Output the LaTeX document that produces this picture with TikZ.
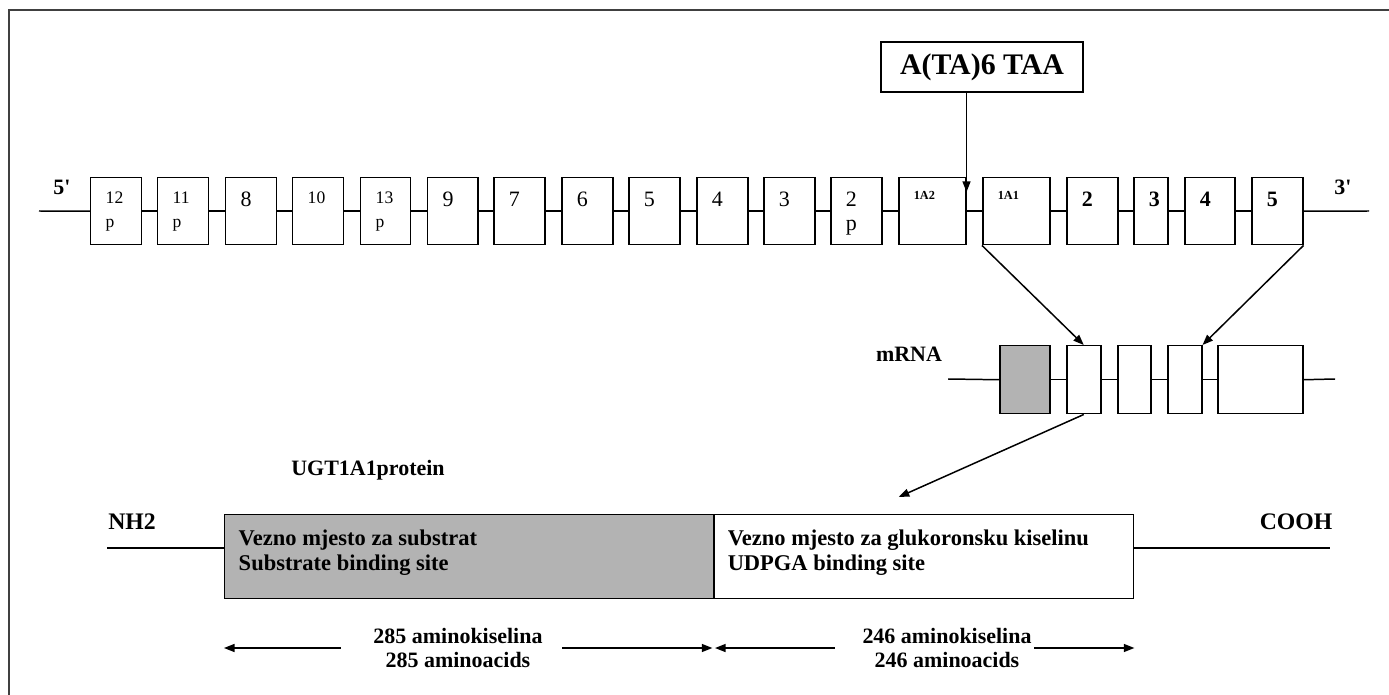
\documentclass[tikz,border=0pt]{standalone}
\usepackage{fontspec}
\setmainfont{Liberation Serif}
\usepackage{xcolor}
\usepackage{tikz}
\usetikzlibrary{arrows.meta,calc}
\definecolor{domgrey}{RGB}{179,179,179}
\newcommand{\fsmall}{\fontsize{10}{13.6}\selectfont}
\newcommand{\flarge}{\fontsize{12.5}{13.6}\selectfont}
\newcommand{\fbold}{\fontsize{12.5}{13.6}\selectfont\bfseries}
\newcommand{\ftiny}{\fontsize{7}{9}\selectfont\bfseries}
\tikzset{
  exon/.style={rectangle, draw, fill=white, anchor=north west, inner sep=0pt,
               minimum width={(#1)*0.02cm}, minimum height=1.34cm},
  mexon/.style={rectangle, draw, fill=#1, anchor=north west, inner sep=0pt,
                minimum height=1.36cm},
  lab/.style={anchor=north west, inner sep=0pt, xshift=0.3cm, yshift=-0.28cm, align=left},
  dom/.style={rectangle, draw, fill=#1, anchor=north west, inner sep=0pt,
              minimum height=1.68cm},
  domtxt/.style={anchor=north west, inner sep=0pt, xshift=0.28cm, yshift=-0.3cm, align=left,
                 font=\fontsize{12.8}{14.2}\selectfont\bfseries},
  tag/.style={inner sep=0pt, font=\fontsize{12.5}{15}\selectfont\bfseries},
  aatxt/.style={inner sep=0pt, align=center, font=\fontsize{12.5}{14.2}\selectfont\bfseries},
  arr/.style={-{Triangle[length=6pt,width=4.5pt]}},
}
\begin{document}
\begin{tikzpicture}[x=0.02cm, y=-0.02cm, line width=0.85pt]
  \useasboundingbox (0,0) rectangle (1389,695);
  \draw[line width=0.8pt, black!75] (1389,10) -- (9,10) -- (9,695);

  % gene
  \foreach \i/\l/\r/\txt/\fnt in {
      1/90/141/{12\\p}/\fsmall, 2/157/208/{11\\p}/\fsmall, 3/225/276/8/\flarge,
      4/292/343/10/\fsmall, 5/360/410/{13\\p}/\fsmall, 6/427/477/9/\flarge,
      7/493/544/7/\flarge, 8/561/612/6/\flarge, 9/628/679/5/\flarge,
      10/696/747/4/\flarge, 11/763/814/3/\flarge, 12/830/881/{2\\p}/\flarge,
      13/898/965/1A2/\ftiny, 14/982/1049/1A1/\ftiny, 15/1066/1117/2/\fbold,
      16/1133/1167/3/\fbold, 17/1184/1234/4/\fbold, 18/1251/1302/5/\fbold}
    \node[exon={\r-\l}, label={[lab, font=\fnt]north west:\txt}] (e\i) at (\l,177) {};
  \foreach \i [evaluate=\i as \j using int(\i+1)] in {1,...,17}
    \draw (e\i.east) -- (e\j.west);
  \coordinate (g5) at (39,211);
  \coordinate (g3) at (1369,211);
  \draw (g5) -- (e1.west);
  \draw (e18.east) -- (g3);
  \node[tag] (p5) at (62,187) {5\textquotesingle};
  \node[tag] (p3) at (1343,187) {3\textquotesingle};

  \node[draw, inner sep=0pt, minimum width=4.04cm, minimum height=1cm,
        font=\fontsize{17}{20}\selectfont\bfseries] (ta) at (982,67) {A(TA)6 TAA};
  \draw[arr] (ta.south -| e13.east) -- ($(e13.north east)+(0,15)$);

  % mRNA
  \foreach \i/\l/\r/\c in {1/999/1049/domgrey, 2/1066/1100/white, 3/1117/1150/white,
                           4/1167/1201/white, 5/1217/1302/white}
    \node[mexon=\c, minimum width={(\r-\l)*0.02cm}] (m\i) at (\l,345) {};
  \coordinate (r5) at (948,379);
  \coordinate (r3) at (1335,379);
  \draw (r5) -- (m1.west);
  \foreach \i [evaluate=\i as \j using int(\i+1)] in {1,...,4}
    \draw (m\i.east) -- (m\j.west);
  \draw (m5.east) -- (r3);
  \node[tag] (mrna) at (909,354) {mRNA};
  \draw[arr] (e14.south west) -- (m2.north);
  \draw[arr] (e18.south east) -- (m4.north east);

  % protein
  \node[dom=domgrey, minimum width=9.78cm,
        label={[domtxt]north west:{Vezno mjesto za substrat\\Substrate binding site}}]
        (sub) at (224,514) {};
  \node[dom=white, minimum width=8.4cm,
        label={[domtxt]north west:{Vezno mjesto za glukoronsku kiselinu\\UDPGA binding site}}]
        (udpga) at (713,514) {};
  \node[tag] (ugt) at (368,470) {UGT1A1protein};
  \node[tag, font=\fontsize{13.5}{15}\selectfont\bfseries] (nh2) at (132,522) {NH2};
  \node[tag, font=\fontsize{13.5}{15}\selectfont\bfseries] (cooh) at (1296,522) {COOH};
  \coordinate (nt) at (107,548);
  \coordinate (ct) at (1330,548);
  \draw (nt) -- (nt -| sub.west);
  \draw (ct -| udpga.east) -- (ct);
  \draw[arr] (m2.south) -- ($(udpga.north)+(-25,-17)$);

  % lengths
  \node[aatxt] (aa1) at (458,648) {285 aminokiselina\\285 aminoacids};
  \node[aatxt] (aa2) at (947,648) {246 aminokiselina\\246 aminoacids};
  \draw[arr] ([xshift=-0.64cm]aa1.west) -- (aa1.west -| sub.west);
  \draw[arr] ([xshift=0.38cm]aa1.east) -- ($(aa1.east -| sub.east)+(-2,0)$);
  \draw[arr] ([xshift=-0.54cm]aa2.west) -- ($(aa2.west -| udpga.west)+(2,0)$);
  \draw[arr] ([xshift=0.04cm]aa2.east) -- (aa2.east -| udpga.east);
\end{tikzpicture}
\end{document}
